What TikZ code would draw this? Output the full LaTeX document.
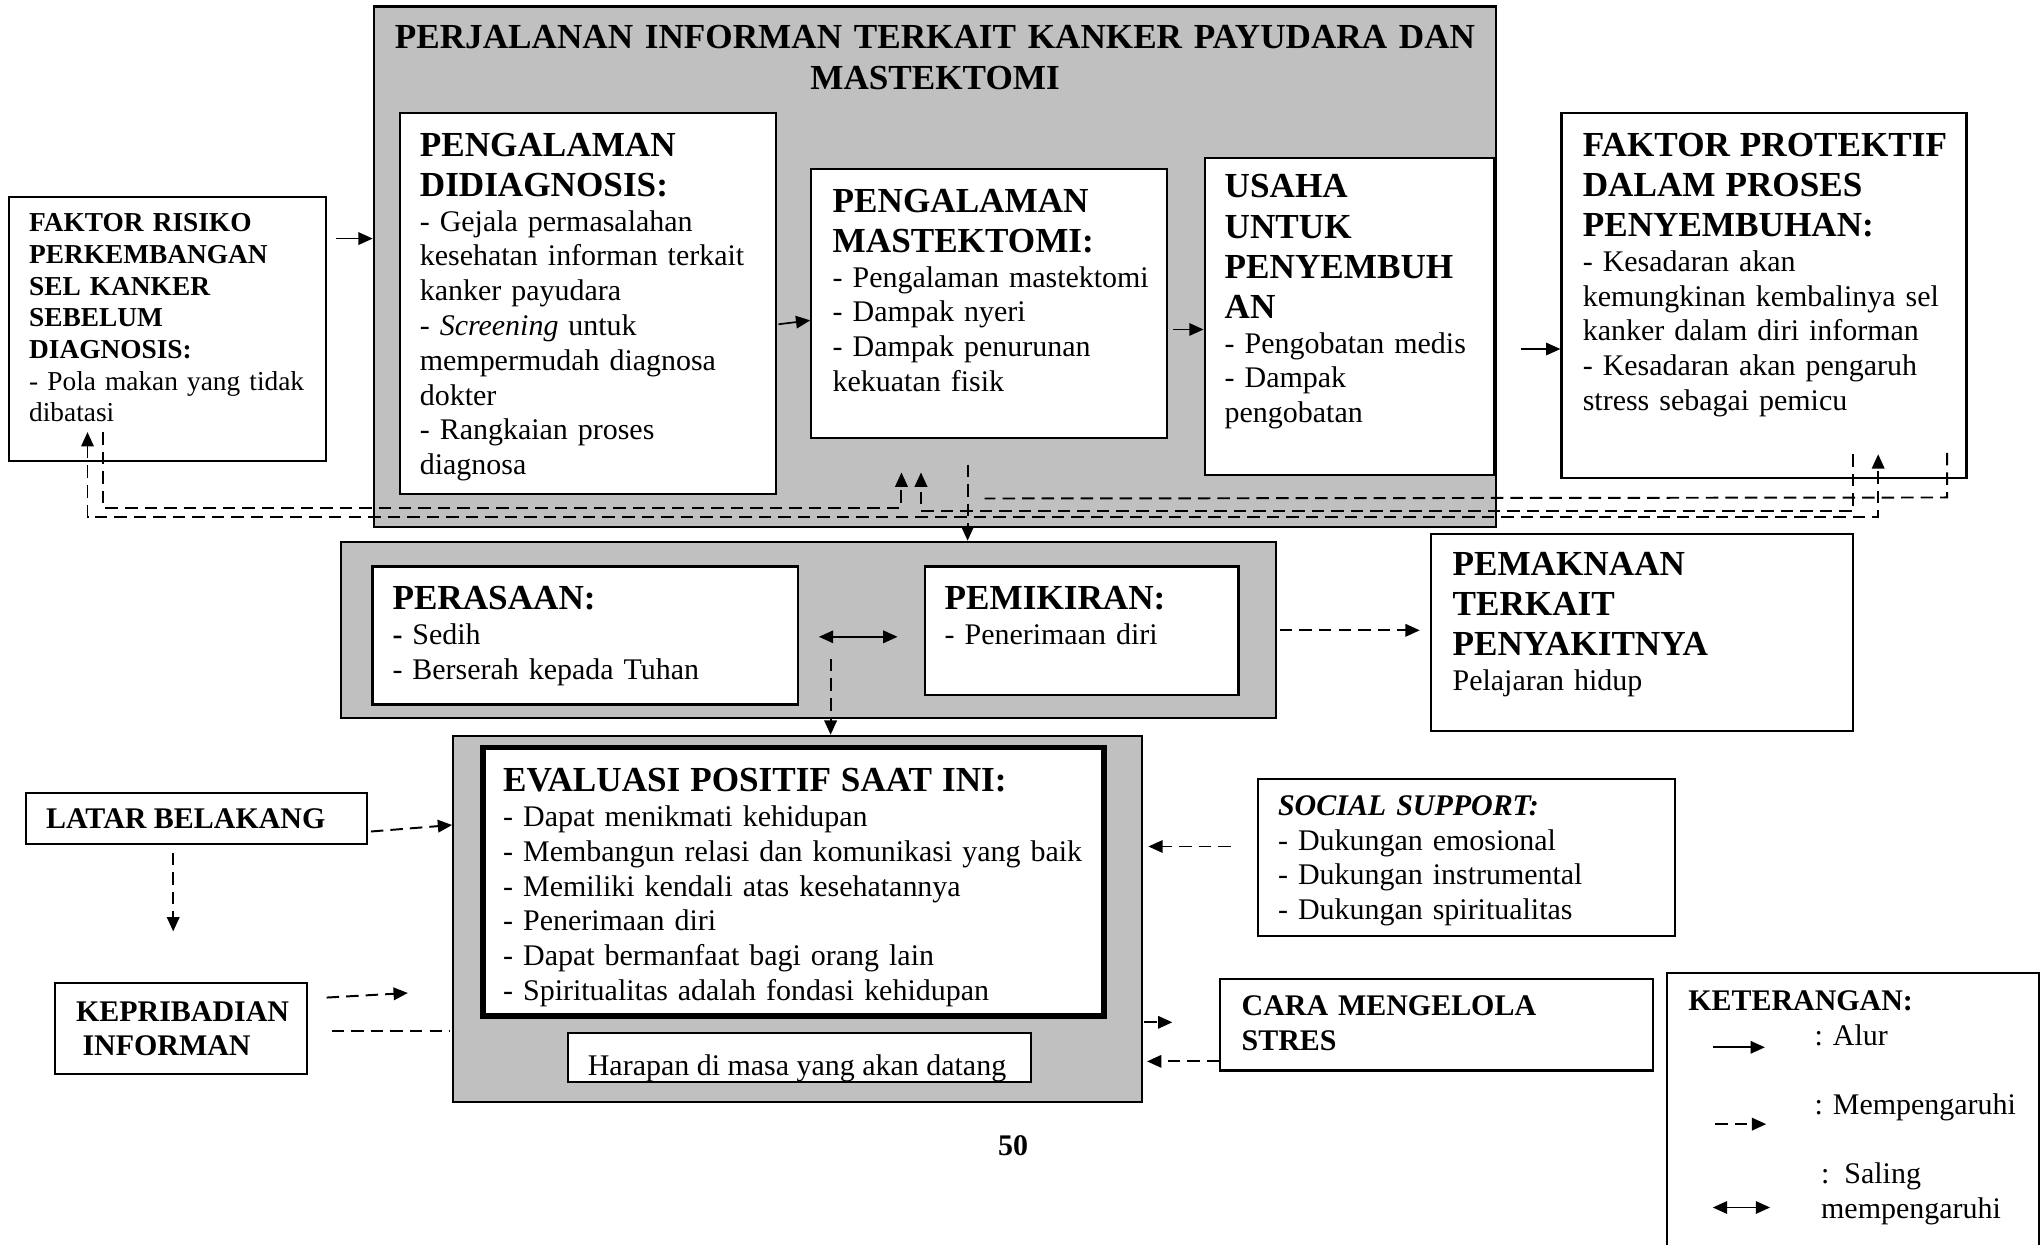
\documentclass[tikz,border=0pt]{standalone}
\usepackage{fontspec}
\setmainfont{Liberation Serif}
\usetikzlibrary{arrows.meta,fit,calc}
\definecolor{boxgray}{RGB}{192,192,192}
\newcommand\hfont{\fontsize{13.5}{15.4}\selectfont\bfseries}
\newcommand\bfont{\fontsize{11.5}{13.35}\selectfont}
\newcommand\sfont{\fontsize{10.5}{12.15}\selectfont}
\newcommand\hd[1]{{\hfont #1\par}}
\begin{document}
\begin{tikzpicture}[x=0.5pt,y=-0.5pt,
  box/.style={draw=black,line width=0.8pt,fill=white,inner sep=0pt},
  graybox/.style={draw=black,line width=0.8pt,fill=boxgray,inner sep=0pt},
  txt/.style={anchor=base west,inner sep=0pt,align=left,text width=#1,font=\bfont},
  lbl/.style={anchor=base west,inner sep=0pt,font=\bfont},
  tip/.style={-{Triangle[length=5.5pt,width=4.8pt]}},
  flow/.style={line width=0.65pt,tip},
  both/.style={line width=0.65pt,{Triangle[length=5.5pt,width=4.8pt]}-{Triangle[length=5.5pt,width=4.8pt]}},
  dline/.style={line width=0.75pt,dash pattern=on 4.8pt off 2.7pt},
  infl/.style={dline,tip},
  infl2/.style={dline,{Triangle[length=5.5pt,width=4.8pt]}-{Triangle[length=5.5pt,width=4.8pt]}}
]
\useasboundingbox (0,0) rectangle (1568,956);
\clip (0,0) rectangle (1568,956);
\fill[white] (0,0) rectangle (1568,956);

% ---- boxes ----
\node[graybox,fit={(287,5) (1149,405)}] (journey) {};
\node[box,fit={(7,151) (250,354)}] (risk) {};
\node[box,fit={(307,87) (596,379)}] (diag) {};
\node[box,fit={(623,130) (896,336)}] (mast) {};
\node[box,fit={(925,121) (1147,365)}] (usaha) {};
\node[box,fit={(1199,87) (1510,367)}] (prot) {};
\node[graybox,fit={(262,416) (980,551)}] (mid) {};
\node[box,fit={(286,435) (613,541)}] (feel) {};
\node[box,fit={(710,435) (951,534)}] (think) {};
\node[box,fit={(1099,410) (1423,561)}] (mean) {};
\node[graybox,fit={(348,565) (877,846)}] (evalg) {};
\node[box,line width=2.2pt,fit={(371,574) (848,780)}] (eval) {};
\node[box,fit={(436,793) (792,831)}] (hope) {};
\node[box,fit={(20,609) (282,648)}] (latar) {};
\node[box,fit={(42,755) (236,825)}] (kepri) {};
\node[box,fit={(966,598) (1286,719)}] (social) {};
\node[box,fit={(937,752) (1269,822)}] (cara) {};
\node[box,fit={(1280,747) (1566,990)}] (ket) {};

% ---- texts ----
\node[anchor=base,inner sep=0pt,align=center,text width=430pt,
  font=\fontsize{13.5}{16}\selectfont\bfseries] (journey-t) at (718,37)
  {PERJALANAN INFORMAN TERKAIT KANKER PAYUDARA DAN\\MASTEKTOMI};
\node[txt=118pt,font=\sfont] (risk-t) at (22,178)
  {{\bfseries FAKTOR RISIKO\\PERKEMBANGAN\\SEL KANKER\\SEBELUM\\DIAGNOSIS:}\\- Pola makan yang tidak\\dibatasi};
\node[txt=136pt] (diag-t) at (322,120)
  {\hd{PENGALAMAN\\DIDIAGNOSIS:}- Gejala permasalahan\\kesehatan informan terkait\\kanker payudara\\- \textit{Screening} untuk\\mempermudah diagnosa\\dokter\\- Rangkaian proses\\diagnosa};
\node[txt=126pt] (mast-t) at (639,163)
  {\hd{PENGALAMAN\\MASTEKTOMI:}- Pengalaman mastektomi\\- Dampak nyeri\\- Dampak penurunan\\kekuatan fisik};
\node[txt=102pt] (usaha-t) at (940,152)
  {\hd{USAHA\\UNTUK\\PENYEMBUH\\AN}- Pengobatan medis\\- Dampak\\pengobatan};
\node[txt=146pt] (prot-t) at (1215,120)
  {\hd{FAKTOR PROTEKTIF\\DALAM PROSES\\PENYEMBUHAN:}- Kesadaran akan\\kemungkinan kembalinya sel\\kanker dalam diri informan\\- Kesadaran akan pengaruh\\stress sebagai pemicu};
\node[txt=150pt] (feel-t) at (301,468)
  {\hd{PERASAAN:}\textbf{-} Sedih\\- Berserah kepada Tuhan};
\node[txt=110pt] (think-t) at (725,468)
  {\hd{PEMIKIRAN:}- Penerimaan diri};
\node[txt=150pt] (mean-t) at (1115,442)
  {\hd{PEMAKNAAN\\TERKAIT\\PENYAKITNYA}Pelajaran hidup};
\node[txt=228pt] (eval-t) at (386,608)
  {\hd{EVALUASI POSITIF SAAT INI:}- Dapat menikmati kehidupan\\- Membangun relasi dan komunikasi yang baik\\- Memiliki kendali atas kesehatannya\\- Penerimaan diri\\- Dapat bermanfaat bagi orang lain\\- Spiritualitas adalah fondasi kehidupan};
\begin{scope}
  \clip (436,793) rectangle (792,830);
  \node[lbl] (hope-t) at (451,826) {Harapan di masa yang akan datang};
\end{scope}
\node[box,fill=none,fit={(436,793) (792,831)}] (hope-b) {};
\node[lbl,font=\bfont\bfseries] (latar-t) at (35,636) {LATAR BELAKANG};
\node[txt=92pt,font=\bfont\bfseries] (kepri-t) at (58,784) {KEPRIBADIAN\\\hspace*{2.5pt}INFORMAN};
\node[txt=150pt] (social-t) at (981,626)
  {{\bfseries\itshape SOCIAL SUPPORT:}\\- Dukungan emosional\\- Dukungan instrumental\\- Dukungan spiritualitas};
\node[txt=150pt,font=\bfont\bfseries] (cara-t) at (953,780) {CARA MENGELOLA\\STRES};
\node[lbl,font=\bfont\bfseries] (ket-t) at (1296,776) {KETERANGAN:};
\node[lbl] (ket-a) at (1393,803) {: Alur};
\node[lbl] (ket-b) at (1393,856) {: Mempengaruhi};
\node[txt=80pt] (ket-c) at (1398,909) {: Saling\\mempengaruhi};
\node[anchor=base,inner sep=0pt,font=\bfont\bfseries] (page) at (778,887) {50};

% ---- solid flow arrows ----
\path ([shift={(7,33)}]risk.north east) coordinate (r1);
\draw[flow] (r1) -- (r1 -| journey.west);
\draw[flow] ([shift={(1,16)}]diag.east) -- ([shift={(0,13)}]mast.west);
\draw[flow] ([shift={(4,20)}]mast.east) -- ([shift={(0,10)}]usaha.west);
\draw[flow] ([shift={(18,63)}]journey.east) -- ([shift={(0,41)}]prot.west);
\draw[both] ([shift={(15,1)}]feel.east) -- ([shift={(-20,4.5)}]think.west);

% ---- influence arrows ----
\draw[infl] ([shift={(2,0.5)}]mid.east) -- ([shift={(-8,-1.5)}]mean.west);
\path ([shift={(24,18)}]feel.east) coordinate (f1);
\draw[infl] (f1) -- (f1 |- evalg.north);
\path ([shift={(-16.5,20)}]mast.south) coordinate (e1);
\draw[infl] (e1) -- (e1 |- mid.north);
\draw[infl] ([shift={(2,10)}]latar.east) -- ([shift={(0,-72)}]evalg.west);
\draw[infl] ([shift={(-18,6)}]latar.south) -- ([shift={(-6,-39)}]kepri.north);
\draw[infl] ([shift={(14,-24)}]kepri.east) -- ([shift={(-34,57)}]evalg.west);
\path ([shift={(18,2)}]kepri.east) coordinate (k2);
\draw[dline] (k2) -- ([xshift=-1pt]k2 -| evalg.west);
\path ([shift={(-20,-8.5)}]social.west) coordinate (s1);
\draw[infl] (s1) -- ([xshift=2pt]s1 -| evalg.east);
\draw[infl] ([shift={(1,79.5)}]evalg.east) -- ([shift={(-36,-2)}]cara.west);
\path ([shift={(0,28)}]cara.west) coordinate (c2);
\draw[infl] (c2) -- ([xshift=1.5pt]c2 -| evalg.east);

% ---- feedback lines ----
\coordinate (ya) at (0,382);
\coordinate (yb) at (0,390);
\coordinate (yc) at (0,392.5);
\coordinate (yd) at (0,397);
\path ([shift={(61,-23)}]risk.south west) coordinate (d1)
      ([shift={(244,-19)}]prot.south west) coordinate (d2)
      ([shift={(73,-23)}]risk.south west) coordinate (b1)
      ([shift={(70,26)}]mast.south west) coordinate (b2)
      ([shift={(225,-19)}]prot.south west) coordinate (cc1)
      ([shift={(85,26)}]mast.south west) coordinate (cc2)
      ([shift={(297,-20)}]prot.south west) coordinate (a1)
      ([shift={(-3.5,46)}]mast.south) coordinate (a2);
\draw[infl2] (d1) -- (d1 |- yd) -- (d2 |- yd) -- (d2);
\draw[infl] (b1) -- (b1 |- yb) -- (b2 |- yb) -- (b2);
\draw[infl] (cc1) -- (cc1 |- yc) -- (cc2 |- yc) -- (cc2);
\draw[dline] (a1) -- (a1 |- ya) -- (a2);

% ---- legend ----
\draw[flow] ([shift={(36,58)}]ket.north west) -- ([shift={(76,58)}]ket.north west);
\draw[infl] ([shift={(38,117)}]ket.north west) -- ([shift={(77,117)}]ket.north west);
\draw[both] ([shift={(36,181)}]ket.north west) -- ([shift={(80,181)}]ket.north west);
\end{tikzpicture}
\end{document}
